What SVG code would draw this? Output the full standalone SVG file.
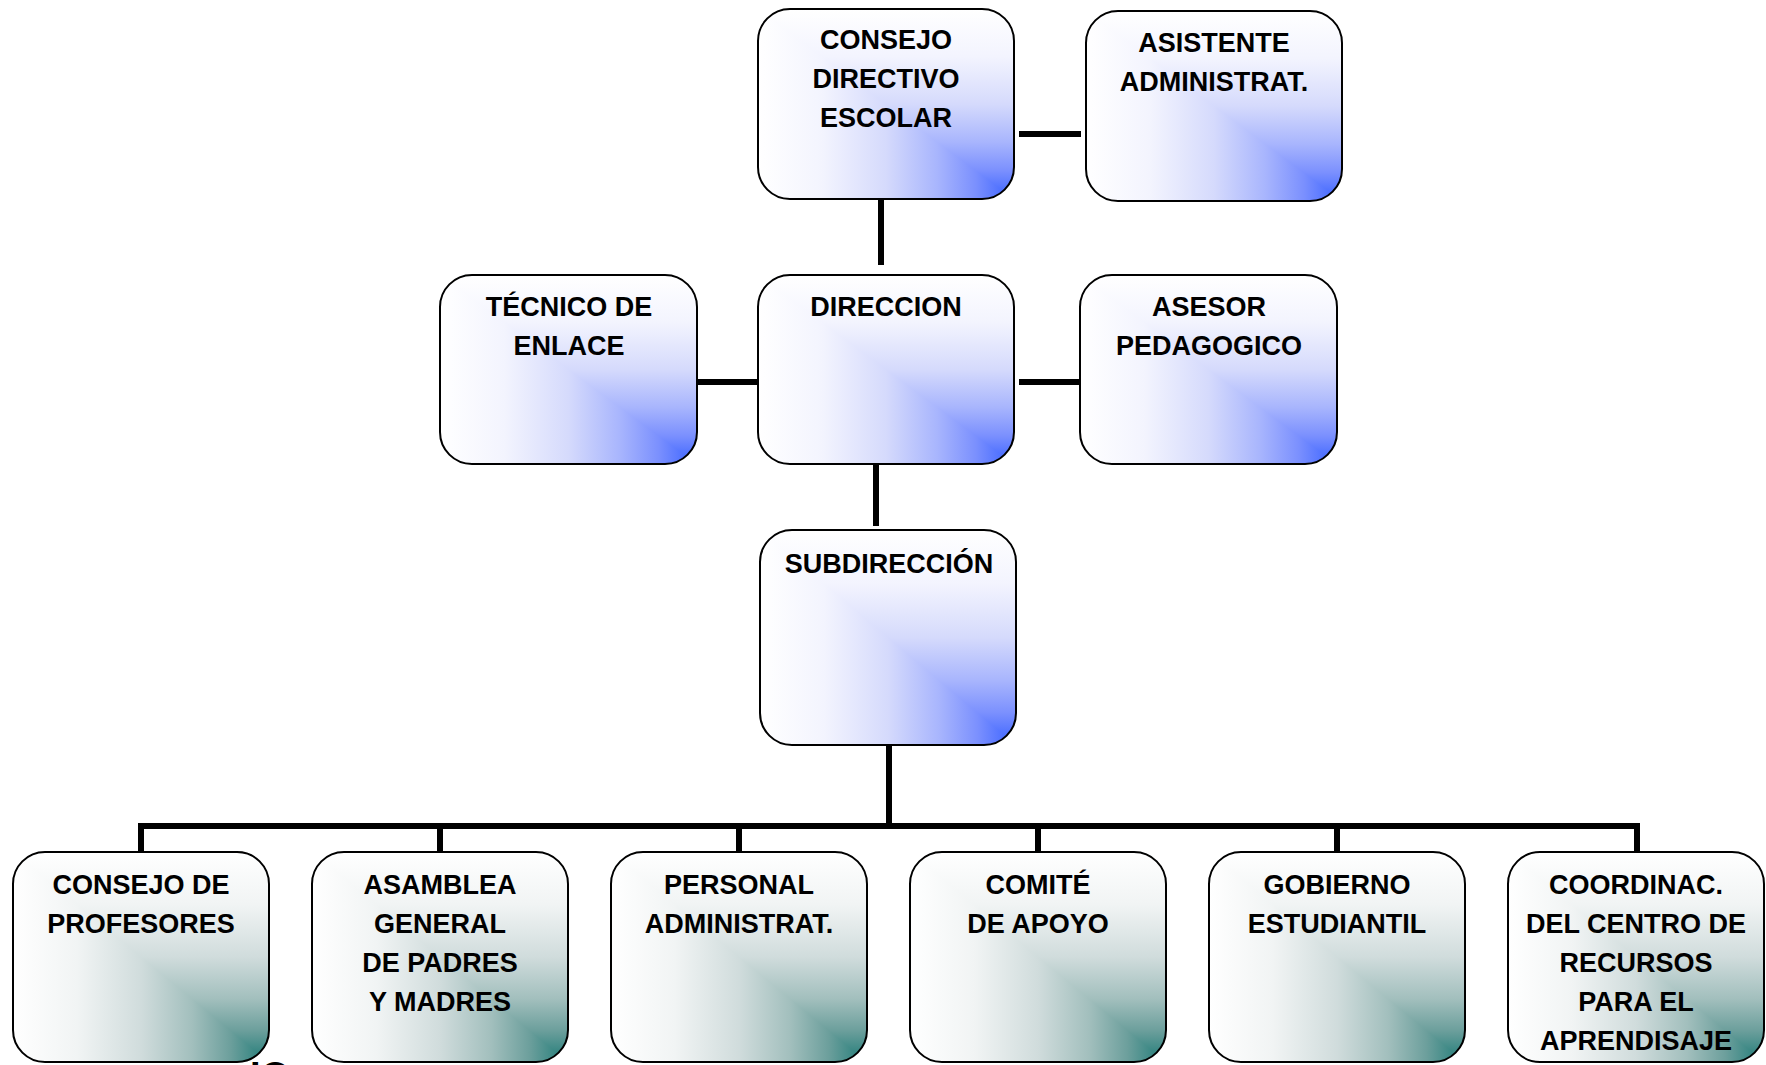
<svg xmlns="http://www.w3.org/2000/svg" width="1766" height="1065" viewBox="0 0 1766 1065">
<defs>
<style>
.t{font-family:"Liberation Sans",Arial,sans-serif;font-weight:bold;font-size:27px;fill:#000;text-anchor:middle}
.ol{fill:none;stroke:#000;stroke-width:2}
.c{stroke:#000;stroke-width:6;fill:none}
</style>
<linearGradient id="bh" x1="0" y1="0" x2="1" y2="0">
<stop offset="0" stop-color="#ffffff"/><stop offset="0.25" stop-color="#f3f4fe"/><stop offset="0.5" stop-color="#d5dafc"/><stop offset="0.7" stop-color="#a8b5fd"/><stop offset="0.85" stop-color="#7b90fe"/><stop offset="1" stop-color="#3a62ff"/>
</linearGradient>
<linearGradient id="bv" x1="0" y1="0" x2="0" y2="1">
<stop offset="0" stop-color="#ffffff"/><stop offset="0.25" stop-color="#f3f4fe"/><stop offset="0.5" stop-color="#d5dafc"/><stop offset="0.7" stop-color="#a8b5fd"/><stop offset="0.85" stop-color="#7b90fe"/><stop offset="1" stop-color="#3a62ff"/>
</linearGradient>
<linearGradient id="th" x1="0" y1="0" x2="1" y2="0">
<stop offset="0" stop-color="#ffffff"/><stop offset="0.25" stop-color="#f1f4f4"/><stop offset="0.5" stop-color="#d0dcdc"/><stop offset="0.7" stop-color="#a2bfbd"/><stop offset="0.85" stop-color="#6c9f9c"/><stop offset="1" stop-color="#1f7b77"/>
</linearGradient>
<linearGradient id="tv" x1="0" y1="0" x2="0" y2="1">
<stop offset="0" stop-color="#ffffff"/><stop offset="0.25" stop-color="#f1f4f4"/><stop offset="0.5" stop-color="#d0dcdc"/><stop offset="0.7" stop-color="#a2bfbd"/><stop offset="0.85" stop-color="#6c9f9c"/><stop offset="1" stop-color="#1f7b77"/>
</linearGradient>
<clipPath id="ur" clipPathUnits="objectBoundingBox"><polygon points="0,0 1,0 1,1"/></clipPath>
</defs>
<rect width="1766" height="1065" fill="#fff"/>
<text class="t" x="270" y="1089" style="font-size:38px">IO</text>
<g id="connectors">
<path class="c" d="M1019 134H1081"/>
<path class="c" d="M881 200V265"/>
<path class="c" d="M697 382H758"/>
<path class="c" d="M1019 382H1080"/>
<path class="c" d="M876 465V526"/>
<path class="c" d="M889 745V826"/>
<path class="c" d="M138 826H1640"/>
<path class="c" d="M141 826V852M440 826V852M739 826V852M1038 826V852M1337 826V852M1637 826V852"/>
</g>
<g id="n-consejo-directivo">
<rect x="758" y="9" width="256" height="190" rx="32" fill="url(#bh)"/>
<rect x="758" y="9" width="256" height="190" rx="32" fill="url(#bv)" clip-path="url(#ur)"/>
<rect class="ol" x="758" y="9" width="256" height="190" rx="32"/>
<text class="t" x="886" y="49">CONSEJO</text><text class="t" x="886" y="88">DIRECTIVO</text><text class="t" x="886" y="127">ESCOLAR</text>
</g>
<g id="n-asistente">
<rect x="1086" y="11" width="256" height="190" rx="32" fill="url(#bh)"/>
<rect x="1086" y="11" width="256" height="190" rx="32" fill="url(#bv)" clip-path="url(#ur)"/>
<rect class="ol" x="1086" y="11" width="256" height="190" rx="32"/>
<text class="t" x="1214" y="52">ASISTENTE</text><text class="t" x="1214" y="91">ADMINISTRAT.</text>
</g>
<g id="n-tecnico">
<rect x="440" y="275" width="257" height="189" rx="32" fill="url(#bh)"/>
<rect x="440" y="275" width="257" height="189" rx="32" fill="url(#bv)" clip-path="url(#ur)"/>
<rect class="ol" x="440" y="275" width="257" height="189" rx="32"/>
<text class="t" x="569" y="316">TÉCNICO DE</text><text class="t" x="569" y="355">ENLACE</text>
</g>
<g id="n-direccion">
<rect x="758" y="275" width="256" height="189" rx="32" fill="url(#bh)"/>
<rect x="758" y="275" width="256" height="189" rx="32" fill="url(#bv)" clip-path="url(#ur)"/>
<rect class="ol" x="758" y="275" width="256" height="189" rx="32"/>
<text class="t" x="886" y="316">DIRECCION</text>
</g>
<g id="n-asesor">
<rect x="1080" y="275" width="257" height="189" rx="32" fill="url(#bh)"/>
<rect x="1080" y="275" width="257" height="189" rx="32" fill="url(#bv)" clip-path="url(#ur)"/>
<rect class="ol" x="1080" y="275" width="257" height="189" rx="32"/>
<text class="t" x="1209" y="316">ASESOR</text><text class="t" x="1209" y="355">PEDAGOGICO</text>
</g>
<g id="n-subdireccion">
<rect x="760" y="530" width="256" height="215" rx="32" fill="url(#bh)"/>
<rect x="760" y="530" width="256" height="215" rx="32" fill="url(#bv)" clip-path="url(#ur)"/>
<rect class="ol" x="760" y="530" width="256" height="215" rx="32"/>
<text class="t" x="889" y="573">SUBDIRECCIÓN</text>
</g>
<g id="n-consejo-profesores">
<rect x="13" y="852" width="256" height="210" rx="32" fill="url(#th)"/>
<rect x="13" y="852" width="256" height="210" rx="32" fill="url(#tv)" clip-path="url(#ur)"/>
<rect class="ol" x="13" y="852" width="256" height="210" rx="32"/>
<text class="t" x="141" y="894">CONSEJO DE</text><text class="t" x="141" y="933">PROFESORES</text>
</g>
<g id="n-asamblea">
<rect x="312" y="852" width="256" height="210" rx="32" fill="url(#th)"/>
<rect x="312" y="852" width="256" height="210" rx="32" fill="url(#tv)" clip-path="url(#ur)"/>
<rect class="ol" x="312" y="852" width="256" height="210" rx="32"/>
<text class="t" x="440" y="894">ASAMBLEA</text><text class="t" x="440" y="933">GENERAL</text><text class="t" x="440" y="972">DE PADRES</text><text class="t" x="440" y="1011">Y MADRES</text>
</g>
<g id="n-personal">
<rect x="611" y="852" width="256" height="210" rx="32" fill="url(#th)"/>
<rect x="611" y="852" width="256" height="210" rx="32" fill="url(#tv)" clip-path="url(#ur)"/>
<rect class="ol" x="611" y="852" width="256" height="210" rx="32"/>
<text class="t" x="739" y="894">PERSONAL</text><text class="t" x="739" y="933">ADMINISTRAT.</text>
</g>
<g id="n-comite">
<rect x="910" y="852" width="256" height="210" rx="32" fill="url(#th)"/>
<rect x="910" y="852" width="256" height="210" rx="32" fill="url(#tv)" clip-path="url(#ur)"/>
<rect class="ol" x="910" y="852" width="256" height="210" rx="32"/>
<text class="t" x="1038" y="894">COMITÉ</text><text class="t" x="1038" y="933">DE APOYO</text>
</g>
<g id="n-gobierno">
<rect x="1209" y="852" width="256" height="210" rx="32" fill="url(#th)"/>
<rect x="1209" y="852" width="256" height="210" rx="32" fill="url(#tv)" clip-path="url(#ur)"/>
<rect class="ol" x="1209" y="852" width="256" height="210" rx="32"/>
<text class="t" x="1337" y="894">GOBIERNO</text><text class="t" x="1337" y="933">ESTUDIANTIL</text>
</g>
<g id="n-coordinac">
<rect x="1508" y="852" width="256" height="210" rx="32" fill="url(#th)"/>
<rect x="1508" y="852" width="256" height="210" rx="32" fill="url(#tv)" clip-path="url(#ur)"/>
<rect class="ol" x="1508" y="852" width="256" height="210" rx="32"/>
<text class="t" x="1636" y="894">COORDINAC.</text><text class="t" x="1636" y="933">DEL CENTRO DE</text><text class="t" x="1636" y="972">RECURSOS</text><text class="t" x="1636" y="1011">PARA EL</text><text class="t" x="1636" y="1050">APRENDISAJE</text>
</g>
</svg>
